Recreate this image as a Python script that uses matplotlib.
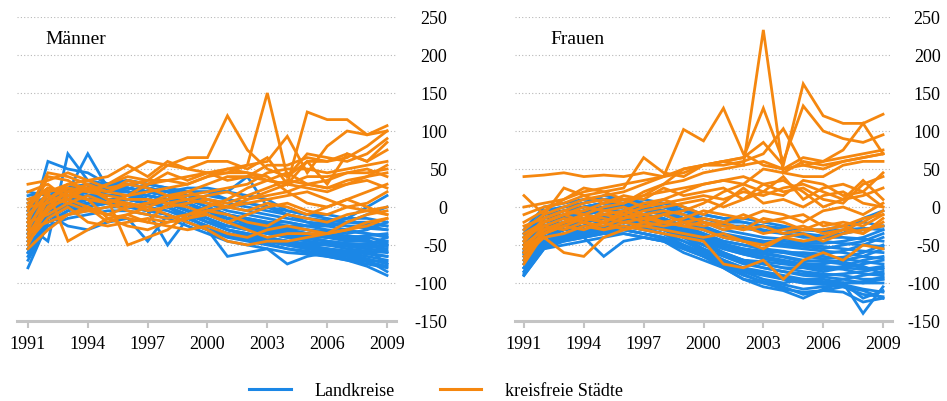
import matplotlib
matplotlib.use("Agg")
import matplotlib.pyplot as plt
from matplotlib.lines import Line2D

plt.rcParams["font.family"] = ["Liberation Serif", "DejaVu Serif"]
plt.rcParams["axes.unicode_minus"] = False

years = list(range(1991, 2010))
xticks = [1991, 1994, 1997, 2000, 2003, 2006, 2009]
yticks = [-150, -100, -50, 0, 50, 100, 150, 200, 250]

# Männer, Landkreise
m_land = [
    [-80, -20, -10, 0, 5, 10, 5, 0, -10, -20, -30, -35, -40, -45, -50, -55, -60, -65, -70],
    [-60, -15, 5, 10, 15, 15, 10, 5, -5, -15, -25, -30, -35, -40, -45, -50, -55, -58, -60],
    [-40, -5, 10, 15, 20, 20, 15, 10, 0, -10, -20, -25, -30, -35, -40, -45, -50, -52, -55],
    [-30, 0, 15, 20, 25, 25, 20, 15, 5, -5, -15, -20, -25, -30, -35, -40, -42, -45, -50],
    [-20, 5, 20, 25, 30, 30, 25, 20, 10, 0, -10, -15, -20, -25, -30, -35, -38, -40, -45],
    [-10, 10, 25, 30, 30, 35, 30, 25, 15, 5, -5, -10, -15, -20, -25, -30, -32, -35, -38],
    [0, 15, 20, 25, 30, 35, 30, 25, 20, 20, 10, 5, 0, -10, -15, -20, -25, -25, -30],
    [10, 20, 15, 20, 25, 30, 25, 20, 25, 25, 20, 15, 10, -5, -10, -15, -20, -20, -25],
    [20, 15, 10, 15, 20, 20, 15, 10, 10, 15, 10, 5, 0, -5, -10, -10, -15, -15, -20],
    [-50, -20, -5, 0, 5, 0, -5, -10, -20, -30, -40, -45, -50, -55, -60, -65, -70, -75, -80],
    [-70, -25, -15, -10, -5, -5, -10, -15, -25, -35, -45, -50, -55, -60, -62, -65, -70, -78, -90],
    [-35, 60, 50, 45, 30, 25, 20, 15, 5, -5, -15, -20, -25, -30, -35, -40, -45, -45, -50],
    [-25, -45, 70, 35, 30, 20, 15, 10, 5, -5, -15, -20, -30, -35, -40, -45, -48, -50, -52],
    [-15, 10, 20, 70, 25, 20, 10, 5, 0, -10, -20, -25, -30, -35, -38, -40, -42, -45, -48],
    [-45, -10, -25, -30, -20, -15, -45, -10, -20, -30, -35, -40, -45, -50, -55, -55, -58, -60, -65],
    [-30, -5, 5, 10, 10, 5, -5, -50, -15, -25, -35, -40, -42, -45, -48, -50, -52, -55, -58],
    [-5, 5, 15, 20, 25, 25, 20, 15, 20, 20, 20, 40, 0, -10, -20, -25, -30, -35, -40],
    [-60, -15, 0, 5, 10, 10, 5, 0, -10, -30, -65, -60, -55, -75, -65, -60, -65, -70, -72],
    [-20, 0, 10, 15, 15, 15, 10, 5, 0, -5, -10, -15, -20, -20, -25, -20, -15, 0, 15],
    [-10, 5, 10, 10, 15, 15, 10, 5, -5, -10, -15, -20, -25, -25, -25, -25, -20, -10, 0],
    [-40, -10, 0, 5, 10, 10, 5, 0, -10, -20, -25, -30, -35, -40, -45, -48, -50, -55, -75],
    [-55, -15, 0, 5, 5, 5, 0, -5, -15, -25, -35, -40, -45, -50, -55, -60, -65, -70, -85],
    [5, 10, 15, 20, 20, 25, 20, 15, 10, 5, 0, -5, -10, -15, -20, -22, -25, -28, -30],
    [-65, -20, -10, -5, 0, 0, -5, -10, -20, -30, -38, -42, -45, -50, -52, -58, -62, -68, -75],
    [15, 20, 25, 30, 30, 30, 25, 20, 15, 10, 5, 0, -5, -10, -15, -18, -20, -22, -25],
    [-35, -10, 5, 10, 15, 15, 10, 5, -5, -15, -25, -28, -32, -38, -42, -45, -48, -50, -40],
    [-45, -10, 5, 10, 15, 15, 10, 5, -5, -15, -30, -35, -40, -45, -50, -50, -50, -48, -45],
    [-25, 0, 10, 20, 20, 20, 15, 10, 0, -10, -20, -25, -30, -35, -38, -40, -40, -38, -35],
    [-55, -20, -5, 5, 10, 10, 5, 0, -15, -25, -35, -42, -48, -55, -58, -62, -68, -72, -78],
    [-15, 5, 15, 25, 25, 25, 20, 15, 5, -5, -15, -22, -28, -32, -35, -38, -40, -42, -60],
    [-35, -15, 0, 10, 15, 15, 10, 5, -5, -20, -30, -38, -42, -48, -52, -55, -58, -62, -65],
    [-5, 10, 20, 25, 30, 30, 25, 20, 10, 0, -10, -18, -22, -28, -30, -32, -35, -30, -20],
]

# Männer, kreisfreie Städte
m_stadt = [
    [-20, 40, 35, 20, 30, 40, 35, 55, 65, 65, 120, 75, 50, 40, 60, 60, 65, 80, 100],
    [0, 25, 20, 10, 5, 15, 30, 45, 35, 45, 45, 55, 150, 40, 70, 65, 60, 70, 90],
    [30, 35, 45, 35, 40, 55, 40, 60, 50, 60, 60, 50, 65, 30, 125, 115, 115, 95, 100],
    [10, 20, 25, 20, 30, 45, 60, 55, 50, 45, 50, 55, 60, 93, 45, 80, 100, 95, 107],
    [-40, 10, 30, 25, 20, 30, 35, 35, 40, 45, 35, 40, 55, 55, 65, 60, 70, 60, 85],
    [-30, 20, -45, -30, -15, -10, 0, 10, 15, 20, 25, 30, 45, 50, 50, 45, 50, 55, 60],
    [-50, 0, 10, 25, 10, -50, -40, -30, -10, 0, 10, 25, 35, 30, 40, 40, 45, 45, 50],
    [-10, 15, 5, -5, -10, 0, 5, 15, 20, 30, 40, 40, 35, 45, 30, 35, 45, 50, 40],
    [20, 30, 10, 0, -20, -10, -20, 5, 10, 15, 20, 10, 20, 30, 25, 20, 30, 40, 45],
    [-30, -20, -10, -5, 0, 5, -5, 0, 5, 10, 5, 15, 25, 35, 30, 25, 30, 35, 25],
    [-20, -10, 5, 15, 5, -5, -10, -15, -10, -5, 0, 10, 15, 20, 5, 0, 10, 20, 30],
    [-45, -15, 0, -20, -25, -20, -15, -20, -15, -10, -20, -10, 0, 5, -5, -10, 0, 5, 20],
    [-40, -5, 15, 10, -15, -25, -30, -20, -15, -5, -10, -20, -25, -10, -15, -20, -10, -5, -10],
    [-55, -30, -10, 0, -10, -15, -20, -25, -30, -25, -35, -40, -30, -25, -30, -35, -20, -10, -5],
    [-35, 0, 20, 25, 10, 5, 0, -10, -20, -30, -45, -50, -45, -45, -40, -35, -30, -20, -15],
    [-25, 10, 25, 20, 15, 10, 10, 5, 0, -10, -20, -30, -40, -35, -35, -35, -30, -25, -15],
    [-15, 20, 30, 35, 25, 30, 25, 15, 10, 5, 0, 5, 10, 15, 20, 10, 0, -5, 0],
    [5, 25, 15, 25, 20, 35, 30, 35, 30, 40, 45, 45, 40, 20, 30, 25, 35, 40, 55],
    [-5, 45, 40, 30, 20, 15, 20, 25, 30, 40, 50, 45, 35, 30, 60, 30, 70, 60, 75],
    [0, 5, 20, 30, 10, 0, 5, 10, 20, 10, 0, -5, 5, 0, -10, 0, 10, 0, -10],
]

# Frauen, Landkreise
f_land = [
    [-90, -55, -50, -45, -40, -35, -40, -45, -55, -65, -75, -85, -90, -95, -100, -100, -105, -110, -120],
    [-85, -50, -45, -40, -35, -30, -35, -40, -50, -60, -70, -80, -85, -90, -95, -98, -100, -140, -105],
    [-80, -45, -40, -35, -30, -25, -30, -35, -45, -55, -65, -75, -80, -85, -90, -92, -95, -100, -100],
    [-75, -40, -35, -30, -25, -20, -25, -30, -40, -50, -60, -70, -75, -80, -85, -88, -90, -95, -95],
    [-70, -35, -30, -25, -20, -15, -20, -25, -35, -45, -55, -62, -68, -72, -78, -80, -82, -88, -90],
    [-65, -30, -25, -20, -15, -10, -15, -20, -30, -40, -50, -55, -60, -65, -70, -72, -75, -80, -82],
    [-60, -25, -20, -15, -10, -5, -10, -15, -25, -35, -45, -50, -55, -58, -62, -65, -68, -72, -75],
    [-55, -20, -15, -10, -5, 0, -5, -10, -20, -30, -40, -45, -50, -52, -55, -58, -60, -65, -68],
    [-50, -15, -10, -5, 0, 5, 0, -5, -15, -25, -35, -40, -45, -48, -50, -52, -55, -58, -60],
    [-45, -10, -5, 0, 5, 10, 5, 0, -10, -20, -30, -35, -40, -42, -45, -45, -48, -50, -52],
    [-40, -5, 0, 5, 10, 10, 5, 5, -5, -15, -22, -28, -32, -35, -38, -40, -40, -42, -45],
    [-35, -5, 0, 5, 15, 10, 10, 5, 0, -10, -15, -20, -25, -28, -30, -32, -30, -28, -30],
    [-30, 0, 5, 10, 10, 10, 5, 0, -5, -10, -15, -15, -20, -25, -30, -30, -25, -20, -25],
    [-60, -50, -35, -40, -65, -45, -40, -45, -60, -70, -80, -95, -100, -105, -115, -110, -105, -115, -118],
    [-70, -40, -30, -25, -20, -20, -25, -30, -40, -55, -70, -85, -95, -100, -95, -95, -100, -100, -95],
    [-80, -45, -35, -30, -25, -25, -30, -35, -50, -65, -80, -95, -105, -110, -120, -108, -100, -120, -110],
    [-55, -30, -20, -15, -10, -10, -15, -20, -30, -40, -50, -60, -65, -70, -75, -75, -70, -65, -55],
    [-65, -35, -25, -20, -15, -15, -20, -25, -35, -45, -60, -70, -75, -80, -80, -85, -80, -75, -70],
    [-50, -25, -15, -10, -5, -5, -10, -15, -25, -35, -45, -50, -55, -60, -60, -62, -58, -50, -40],
    [-45, -20, -10, -5, 0, 0, -5, -10, -20, -30, -40, -45, -48, -50, -52, -55, -50, -45, -35],
    [-85, -50, -40, -35, -30, -30, -35, -40, -50, -60, -72, -82, -88, -92, -98, -100, -95, -90, -85],
    [-75, -40, -30, -25, -20, -20, -25, -30, -40, -50, -62, -70, -72, -75, -78, -82, -78, -70, -65],
    [-40, -15, -5, 0, 5, 5, 0, -5, -15, -20, -25, -25, -30, -35, -40, -40, -35, -15, -5],
    [-35, -10, -5, 0, 5, 5, 0, -5, -10, -15, -20, -20, -25, -30, -35, -38, -35, -30, -25],
    [-90, -55, -45, -40, -35, -35, -40, -45, -55, -65, -78, -90, -98, -102, -108, -105, -102, -108, -112],
    [-62, -28, -22, -18, -12, -12, -18, -22, -32, -42, -52, -58, -62, -66, -72, -70, -72, -78, -88],
    [-70, -40, -30, -25, -20, -18, -22, -28, -38, -50, -62, -72, -80, -85, -88, -90, -88, -85, -80],
    [-60, -30, -22, -18, -12, -8, -12, -18, -28, -38, -48, -55, -58, -60, -65, -68, -66, -60, -50],
    [-80, -48, -38, -32, -28, -25, -28, -35, -45, -58, -70, -80, -88, -95, -100, -102, -100, -98, -92],
    [-50, -20, -12, -8, -2, 2, -2, -8, -18, -28, -38, -42, -45, -45, -48, -48, -45, -40, -30],
    [-88, -52, -42, -38, -32, -30, -35, -42, -52, -62, -75, -88, -100, -108, -112, -110, -112, -125, -120],
    [-58, -32, -25, -18, -12, -10, -15, -22, -32, -45, -55, -62, -68, -72, -75, -78, -80, -82, -78],
]

# Frauen, kreisfreie Städte
f_stadt = [
    [0, 5, 10, 20, 25, 30, 35, 40, 50, 55, 60, 55, 233, 45, 60, 55, 60, 65, 70],
    [-30, -10, 0, 10, 15, 20, 30, 40, 102, 87, 130, 70, 55, 50, 55, 50, 60, 65, 70],
    [40, 42, 45, 40, 42, 40, 45, 40, 45, 55, 60, 65, 130, 60, 133, 100, 90, 85, 95],
    [15, -10, 25, 15, 20, 25, 65, 45, 40, 55, 55, 60, 70, 103, 55, 60, 75, 110, 70],
    [-20, -5, 10, 25, 20, 10, 15, 30, 50, 55, 60, 65, 85, 55, 162, 120, 110, 110, 122],
    [-50, -30, -20, -10, 0, 5, 20, 30, 35, 45, 50, 55, 60, 50, 65, 60, 65, 70, 75],
    [-60, -40, -60, -65, -40, -30, -20, -10, -5, 5, 20, 30, 50, 45, 40, 40, 55, 60, 60],
    [-40, -20, -10, -20, -5, -10, 0, 10, 20, 30, 35, 30, 20, 40, 10, 25, 30, 20, 45],
    [-70, -30, -20, -15, -10, -15, -5, 0, 5, 10, 0, 10, 30, 20, 25, 10, 5, 30, 40],
    [-45, -15, -5, -10, -20, -5, 5, 10, 0, -10, 5, 25, 5, 10, 0, 15, 20, 5, 0],
    [-55, -25, -30, -20, -25, -15, -10, -20, -15, -5, -10, -15, -5, -10, -20, -5, 0, -10, 5],
    [-75, -35, -25, -30, -20, -30, -25, -20, -25, -20, -30, -25, -35, -30, -25, -35, -30, -20, -5],
    [-65, -40, -35, -25, -30, -25, -30, -35, -40, -45, -75, -80, -70, -95, -70, -60, -70, -50, -55],
    [-50, -30, -20, -15, -10, -5, -15, -20, -25, -30, -40, -45, -55, -40, -35, -45, -35, -30, -25],
    [-35, -20, -10, 0, -5, 0, -10, -5, -10, -20, -25, -30, -25, -35, -30, -30, -25, -15, -10],
    [-60, -35, -20, -10, -15, -20, -25, -30, -35, -40, -35, -45, -50, -40, -45, -40, -30, -35, -20],
    [-45, -20, -10, -5, 5, 10, 0, 5, 10, 15, 10, 20, 15, 25, 30, 20, 10, 15, 25],
    [-25, -15, -5, 5, 10, 5, 15, 20, 25, 30, 35, 40, 30, 35, 20, 0, 10, 35, 10],
    [-10, 0, 5, 15, 5, 15, 10, 25, 15, 20, 25, 10, 20, 15, 35, 30, 15, 20, 0],
    [-40, -25, -15, -20, -30, -20, -15, -10, -20, -15, -20, -10, -20, -15, -10, -25, -20, -25, -10],
    [-55, -35, -25, -15, -20, -10, -20, -25, -20, -25, -20, -30, -15, -20, -30, -20, -25, -35, -15],
]

BLUE = "#1b87e6"
ORANGE = "#f5870f"
GREY = "#c4c4c4"


def draw_panel(ax, land, stadt, label, xlim, label_x, pad):
    for s in land:
        ax.plot(years, s, color=BLUE, lw=2.0, solid_joinstyle="miter")
    for s in stadt:
        ax.plot(years, s, color=ORANGE, lw=2.0, solid_joinstyle="miter")
    ax.set_xlim(*xlim)
    ax.set_ylim(-150, 250)
    ax.set_xticks(xticks)
    ax.set_yticks(yticks)
    ax.yaxis.tick_right()
    ax.tick_params(axis="y", length=0, pad=pad, labelsize=13)
    for t in ax.get_yticklabels():
        t.set_horizontalalignment("right")
    ax.tick_params(axis="x", length=5, width=1.5, color=GREY, pad=6, labelsize=13)
    for sp in ["left", "right", "top"]:
        ax.spines[sp].set_visible(False)
    ax.spines["bottom"].set_color(GREY)
    ax.spines["bottom"].set_linewidth(2.2)
    ax.grid(axis="y", color="#b8b8b8", linestyle=(0, (1, 2)), linewidth=0.8)
    ax.set_axisbelow(True)
    ax.text(label_x, 214, label, fontsize=14, va="baseline", ha="left")


fig = plt.figure(figsize=(9.47, 4.01), dpi=100)
ax1 = fig.add_axes([17 / 947, 1 - 321 / 401, 379 / 947, 304 / 401])
ax2 = fig.add_axes([515 / 947, 1 - 321 / 401, 377 / 947, 304 / 401])

draw_panel(ax1, m_land, m_stadt, "Männer", (1990.45, 2009.45), 1991.85, 37)
draw_panel(ax2, f_land, f_stadt, "Frauen", (1990.55, 2009.45), 1992.3, 35)

handles = [Line2D([], [], color=BLUE, lw=2.2), Line2D([], [], color=ORANGE, lw=2.2)]
fig.legend(handles, ["Landkreise", "kreisfreie Städte"], loc="center",
           bbox_to_anchor=(436 / 947, 1 - 391 / 401), ncol=2, frameon=False,
           fontsize=13, handlelength=2.3, handletextpad=1.3, columnspacing=2.5)

fig.savefig("out.png", dpi=100)
